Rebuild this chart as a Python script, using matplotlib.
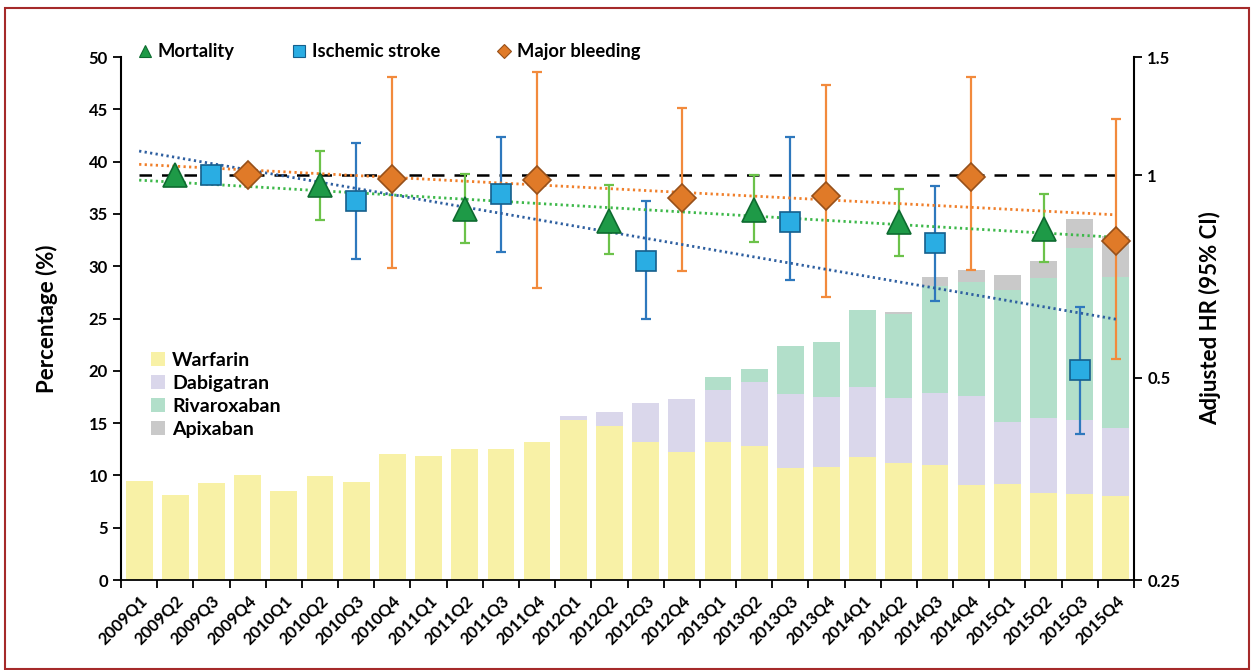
import numpy as np
import matplotlib
matplotlib.use("Agg")
import matplotlib.pyplot as plt
from matplotlib.patches import Rectangle
from matplotlib.lines import Line2D
from matplotlib.ticker import NullLocator, FixedLocator

plt.rcParams['font.family'] = ['Lato', 'DejaVu Sans']
plt.rcParams['font.weight'] = 'bold'

quarters = [f"{y}Q{q}" for y in range(2009, 2016) for q in range(1, 5)]

# stacked bar tops (percent)
warfarin = [9.5, 8.1, 9.3, 10.0, 8.5, 9.9, 9.4, 12.0, 11.9, 12.5, 12.5, 13.2,
            15.3, 14.7, 13.2, 12.2, 13.2, 12.8, 10.7, 10.8, 11.8, 11.2, 11.0, 9.1,
            9.2, 8.35, 8.2, 8.0]
dabigatran = [0, 0, 0, 0, 0, 0, 0, 0, 0, 0, 0, 0,
              0.4, 1.4, 3.7, 5.1, 5.0, 6.1, 7.1, 6.7, 6.7, 6.2, 6.9, 8.5,
              5.9, 7.15, 7.1, 6.5]
rivaroxaban = [0, 0, 0, 0, 0, 0, 0, 0, 0, 0, 0, 0,
               0, 0, 0, 0, 1.2, 1.3, 4.6, 5.3, 7.3, 8.0, 10.2, 10.9,
               12.6, 13.4, 16.4, 14.5]
apixaban = [0, 0, 0, 0, 0, 0, 0, 0, 0, 0, 0, 0,
            0, 0, 0, 0, 0, 0, 0, 0, 0, 0.2, 0.9, 1.1,
            1.5, 1.6, 2.8, 3.9]

# adjusted HR by year (2009 = reference)
mort_hr = [1.0, 0.966, 0.890, 0.855, 0.887, 0.851, 0.831]
mort_lo = [1.0, 0.859, 0.793, 0.763, 0.795, 0.759, 0.742]
mort_hi = [1.0, 1.086, 1.006, 0.966, 1.000, 0.956, 0.937]
stroke_hr = [1.0, 0.916, 0.937, 0.746, 0.851, 0.792, 0.513]
stroke_lo = [1.0, 0.750, 0.769, 0.612, 0.698, 0.650, 0.412]
stroke_hi = [1.0, 1.118, 1.140, 0.916, 1.139, 0.963, 0.637]
bleed_hr = [1.0, 0.989, 0.983, 0.924, 0.933, 0.993, 0.799]
bleed_lo = [1.0, 0.727, 0.679, 0.720, 0.659, 0.722, 0.533]
bleed_hi = [1.0, 1.403, 1.427, 1.258, 1.362, 1.403, 1.211]

x = np.arange(len(quarters))
fig = plt.figure(figsize=(12.53, 6.70), dpi=100)
ax = fig.add_axes([0.0966, 0.1343, 0.8084, 0.7806])

w = 0.74
b1 = np.array(warfarin)
b2 = b1 + np.array(dabigatran)
b3 = b2 + np.array(rivaroxaban)
ax.bar(x, warfarin, w, color='#F8F1A6', label='Warfarin')
ax.bar(x, dabigatran, w, bottom=b1, color='#DAD7EB', label='Dabigatran')
ax.bar(x, rivaroxaban, w, bottom=b2, color='#B2DFCA', label='Rivaroxaban')
ax.bar(x, apixaban, w, bottom=b3, color='#C9C9C9', label='Apixaban')

ax.set_xlim(-0.5, len(quarters) - 0.5)
ax.set_ylim(0, 50)
ax.set_yticks(np.arange(0, 51, 5))
ax.set_xticks(x)
ax.set_xticklabels(quarters, rotation=45, ha='right', rotation_mode='anchor', fontsize=12, fontweight='bold')
ax.xaxis.set_minor_locator(FixedLocator(np.arange(-0.5, len(quarters), 1)))
ax.tick_params(axis='x', which='major', length=0, pad=9)
ax.tick_params(axis='x', which='minor', length=6, width=1.3)
ax.tick_params(axis='y', length=6, width=1.3, labelsize=12)
for lab in ax.get_yticklabels():
    lab.set_fontweight('bold')
ax.spines['top'].set_visible(False)
ax.spines['right'].set_visible(False)
ax.spines['left'].set_linewidth(1.5)
ax.spines['bottom'].set_linewidth(1.3)
ax.set_ylabel('Percentage (%)', fontsize=16, fontweight='bold', labelpad=22)

ax.legend(loc='center left', bbox_to_anchor=(0.012, 0.354), frameon=False,
          handlelength=0.75, handleheight=0.75, handletextpad=0.35, labelspacing=0.3,
          prop={'weight': 'bold', 'size': 14})

ax2 = ax.twinx()
ax2.set_yscale('log')
ax2.set_ylim(0.25, 1.5)
ax2.yaxis.set_major_locator(FixedLocator([0.25, 0.5, 1, 1.5]))
ax2.yaxis.set_minor_locator(NullLocator())
ax2.set_yticklabels(['0.25', '0.5', '1', '1.5'], fontsize=12, fontweight='bold')
ax2.tick_params(axis='y', length=6, width=1.3)
for s in ['top', 'left', 'bottom']:
    ax2.spines[s].set_visible(False)
ax2.spines['right'].set_linewidth(1.5)
ax2.set_ylabel('Adjusted HR (95% CI)', fontsize=16, fontweight='bold', labelpad=14)

# reference line at HR = 1
ax2.plot([x[0], x[-1]], [1, 1], color='black', lw=1.8, ls=(0, (5, 4)), zorder=2)

series = [
    (x[1::4], mort_hr, mort_lo, mort_hi, '^', '#1E9A47', '#0E6B30', '#6CC24A', '#3DB84A', 17, 'Mortality'),
    (x[2::4], stroke_hr, stroke_lo, stroke_hi, 's', '#2AADE3', '#155F8C', '#2E78BD', '#2E5FA0', 15, 'Ischemic stroke'),
    (x[3::4], bleed_hr, bleed_lo, bleed_hi, 'D', '#E07A28', '#97501A', '#F28A3C', '#F07F2A', 14, 'Major bleeding'),
]
handles = []
for xs, hr, lo, hi, mk, fc, ec, errc, trc, ms, name in series:
    hr = np.array(hr)
    yerr = [hr - np.array(lo), np.array(hi) - hr]
    ax2.errorbar(xs[1:], hr[1:], yerr=[yerr[0][1:], yerr[1][1:]], fmt='none', ecolor=errc,
                 elinewidth=1.6, capsize=3.5, capthick=1.6, zorder=3)
    # exponential trend (straight on log axis)
    k, c = np.polyfit(xs, np.log(hr), 1)
    xt = np.array([x[0], x[-1]])
    ax2.plot(xt, np.exp(c + k * xt), color=trc, lw=2, ls=(0, (0.8, 1.2)), zorder=4)
    ax2.plot(xs, hr, ls='none', marker=mk, ms=ms, mfc=fc, mec=ec, mew=1.2, zorder=5)
    handles.append(Line2D([], [], ls='none', marker=mk, ms=9 if mk != 'D' else 7,
                          mfc=fc, mec=ec, mew=0.8, label=name))

ax2.legend(handles=handles, loc='center left', bbox_to_anchor=(0.0, 1.01), ncol=3,
           frameon=False, handlelength=0.8, handletextpad=0.3, columnspacing=3.1,
           prop={'weight': 'bold', 'size': 13.2})

fig.patches.append(Rectangle((0.004, 0.002), 0.993, 0.986, transform=fig.transFigure,
                             fill=False, edgecolor='#A52A2A', lw=1.5))

fig.savefig('out.png', dpi=100)
